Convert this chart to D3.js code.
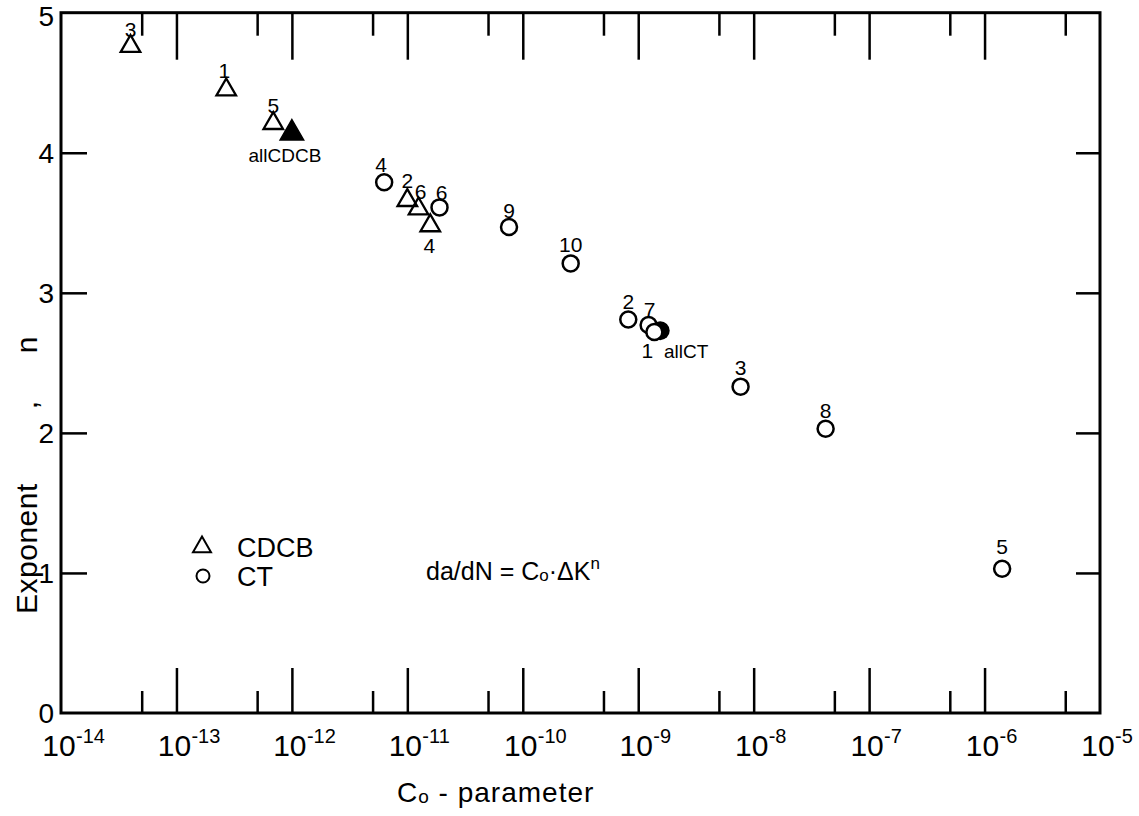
<!DOCTYPE html>
<html>
<head>
<meta charset="utf-8">
<script src="https://cdn.jsdelivr.net/npm/d3@7"></script>
<style>
  html, body { margin: 0; padding: 0; background: #fff; }
  svg text { font-family: "Liberation Sans", Arial, sans-serif; fill: #000; }
</style>
</head>
<body>
<svg id="chart" width="1139" height="816"></svg>
<script>
// ---- data ----
const cdcbLabels = ["3", "1", "5", "2", "6", "4"];
const cdcbCo     = [4.0e-14, 2.7e-13, 6.9e-13, 1.0e-11, 1.25e-11, 1.58e-11];
const cdcbN      = [4.76, 4.45, 4.21, 3.66, 3.60, 3.48];

const ctLabels = ["4", "6", "9", "10", "2", "7", "1", "3", "8", "5"];
const ctCo     = [6.3e-12, 1.9e-11, 7.6e-11, 2.6e-10, 8.2e-10, 1.23e-9, 1.38e-9, 7.7e-9, 4.2e-8, 1.42e-6];
const ctN      = [3.79, 3.61, 3.47, 3.21, 2.81, 2.77, 2.72, 2.33, 2.03, 1.03];

const allLabels = ["allCDCB", "allCT"];
const allCo     = [1.0e-12, 1.55e-9];
const allN      = [4.14, 2.73];

const xTickExps  = [-14, -13, -12, -11, -10, -9, -8, -7, -6, -5];
const yTickVals  = [0, 1, 2, 3, 4, 5];
const legendNames = ["CDCB", "CT"];

// label placement (pixels relative to marker)
const cdcbLabelOff = [[0,-17],[-2,-19],[0,-18],[0,-20],[2,-17],[-1,20]];
const ctLabelOff   = [[-3,-18],[2,-15],[0,-17],[0,-19],[0,-18],[1,-16],[-7,18],[0,-19],[0,-18],[0,-22]];
const allLabelOff  = [[-7,22],[26,21]];

// ---- layout ----
const L = 61, R = 1100, T = 12.7, B = 713;
const svg = d3.select("#chart");
const x = d3.scaleLog().domain([1e-14, 1e-5]).range([L, R]);
const y = d3.scaleLinear().domain([0, 5]).range([B, T]);

const majorX = xTickExps.slice(1, -1).map(e => Math.pow(10, e));
const minorX = xTickExps.slice(0, -1).map(e => 5 * Math.pow(10, e));
const innerY = yTickVals.slice(1, -1);

// ticks via d3 axes (inward)
function tickAxis(gen, transform) {
  const g = svg.append("g").attr("transform", transform).call(gen);
  g.select(".domain").remove();
  g.selectAll("line").attr("stroke", "#000").attr("stroke-width", 2.5);
  g.selectAll("text").remove();
  return g;
}
tickAxis(d3.axisBottom(x).tickValues(majorX).tickSize(-45), `translate(0,${B})`);
tickAxis(d3.axisBottom(x).tickValues(minorX).tickSize(-22), `translate(0,${B})`);
tickAxis(d3.axisTop(x).tickValues(majorX).tickSize(-47), `translate(0,${T})`);
tickAxis(d3.axisTop(x).tickValues(minorX).tickSize(-23), `translate(0,${T})`);
tickAxis(d3.axisLeft(y).tickValues(innerY).tickSize(-26), `translate(${L},0)`);
tickAxis(d3.axisRight(y).tickValues(innerY).tickSize(-24), `translate(${R},0)`);

// frame
svg.append("rect")
  .attr("x", L).attr("y", T).attr("width", R - L).attr("height", B - T)
  .attr("fill", "none").attr("stroke", "#000").attr("stroke-width", 3);

// x tick labels 10^n
const xl = svg.append("g");
xTickExps.forEach(e => {
  const px = x(Math.pow(10, e));
  xl.append("text").attr("x", px - 2).attr("y", 756)
    .attr("text-anchor", "middle").attr("font-size", 30).text("10");
  xl.append("text").attr("x", px + 15).attr("y", 743)
    .attr("font-size", 20).text("-" + Math.abs(e));
});

// y tick labels
svg.append("g").selectAll("text").data(yTickVals).join("text")
  .attr("x", 54).attr("y", d => Math.max(y(d), 16)).attr("dy", "0.36em")
  .attr("text-anchor", "end").attr("font-size", 28).text(d => d);

// axis titles
const xt = svg.append("text").attr("x", 397).attr("y", 802)
  .attr("font-size", 28).attr("letter-spacing", 1);
xt.append("tspan").text("C");
xt.append("tspan").attr("font-size", 19).attr("dy", 1).text("o");
xt.append("tspan").attr("dy", -1).text(" - parameter");

svg.append("text").attr("transform", "translate(37,614) rotate(-90)")
  .attr("font-size", 30).attr("letter-spacing", 0.5).text("Exponent");
svg.append("text").attr("transform", "translate(37,405) rotate(-90)")
  .attr("font-size", 30).attr("text-anchor", "middle").text(",");
svg.append("text").attr("transform", "translate(37,345) rotate(-90)")
  .attr("font-size", 30).attr("text-anchor", "middle").text("n");

// ---- marks ----
const tri = d3.symbol().type(d3.symbolTriangle).size(165);
const triBig = d3.symbol().type(d3.symbolTriangle).size(240);
const ctData = ctLabels.map((l, i) => ({ l, co: ctCo[i], n: ctN[i], off: ctLabelOff[i] }));
const cdcbData = cdcbLabels.map((l, i) => ({ l, co: cdcbCo[i], n: cdcbN[i], off: cdcbLabelOff[i] }));
const allData = allLabels.map((l, i) => ({ l, co: allCo[i], n: allN[i], off: allLabelOff[i] }));

// all-CT filled circle (behind)
svg.append("circle")
  .attr("cx", x(allData[1].co)).attr("cy", y(allData[1].n)).attr("r", 9.5)
  .attr("fill", "#000");

// CT circles
svg.append("g").selectAll("circle").data(ctData).join("circle")
  .attr("cx", d => x(d.co)).attr("cy", d => y(d.n)).attr("r", 8)
  .attr("fill", "#fff").attr("stroke", "#000").attr("stroke-width", 2.5);

// CDCB triangles
svg.append("g").selectAll("path").data(cdcbData).join("path")
  .attr("d", tri)
  .attr("transform", d => `translate(${x(d.co)},${y(d.n)})`)
  .attr("fill", "none").attr("stroke", "#000").attr("stroke-width", 2.3)
  .attr("stroke-linejoin", "miter");

// all-CDCB filled triangle
svg.append("path").attr("d", triBig)
  .attr("transform", `translate(${x(allData[0].co)},${y(allData[0].n)})`)
  .attr("fill", "#000").attr("stroke", "#000").attr("stroke-width", 1.5);

// point labels
const lab = svg.append("g").attr("font-size", 21).attr("text-anchor", "middle");
[...cdcbData, ...ctData].forEach(d => {
  lab.append("text").attr("x", x(d.co) + d.off[0]).attr("y", y(d.n) + d.off[1])
    .attr("dy", "0.36em").text(d.l);
});
allData.forEach(d => {
  lab.append("text").attr("x", x(d.co) + d.off[0]).attr("y", y(d.n) + d.off[1])
    .attr("dy", "0.36em").attr("font-size", 19).text(d.l);
});

// legend
const lg = svg.append("g");
lg.append("path").attr("d", d3.symbol().type(d3.symbolTriangle).size(140))
  .attr("transform", "translate(202,547)")
  .attr("fill", "none").attr("stroke", "#000").attr("stroke-width", 2);
lg.append("circle").attr("cx", 203).attr("cy", 576).attr("r", 6.5)
  .attr("fill", "none").attr("stroke", "#000").attr("stroke-width", 2);
lg.selectAll("text").data(legendNames).join("text")
  .attr("x", 237).attr("y", (d, i) => 557 + i * 29)
  .attr("font-size", 27).text(d => d);

// formula
const f = svg.append("text").attr("x", 426).attr("y", 580).attr("font-size", 25);
f.append("tspan").text("da/dN = C");
f.append("tspan").attr("font-size", 17).attr("dy", 1).text("o");
f.append("tspan").attr("dy", -1).text("\u00B7\u0394K");
f.append("tspan").attr("font-size", 17).attr("dy", -11).text("n");
</script>
</body>
</html>
